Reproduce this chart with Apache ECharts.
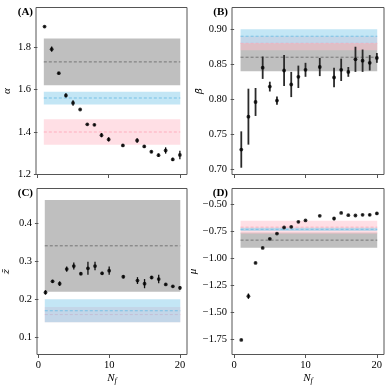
<!DOCTYPE html>
<html>
<head>
<meta charset="utf-8">
<script src="https://cdn.jsdelivr.net/npm/echarts@6/dist/echarts.min.js"></script>
<style>html,body{margin:0;padding:0;background:#fff}#c{width:390px;height:390px}</style>
</head>
<body>
<div id="c"></div>
<script>
// ---- data ----
const nf = [1,2,3,4,5,6,7,8,9,10,12,14,15,16,17,18,19,20];
const alphaVals = [1.896,1.790,1.677,1.572,1.537,1.506,1.436,1.434,1.385,1.365,1.337,1.360,1.332,1.307,1.291,1.313,1.271,1.292];
const alphaErr  = [0.004,0.012,0.006,0.010,0.013,0.004,0.004,0.005,0.010,0.010,0.006,0.011,0.006,0.005,0.008,0.015,0.008,0.020];
const betaVals  = [0.728,0.775,0.796,0.845,0.818,0.798,0.841,0.821,0.832,0.842,0.846,0.831,0.842,0.839,0.857,0.855,0.852,0.859];
const betaErr   = [0.026,0.040,0.020,0.016,0.007,0.006,0.022,0.018,0.016,0.010,0.013,0.014,0.016,0.007,0.018,0.016,0.011,0.007];
const zVals     = [0.218,0.247,0.241,0.279,0.287,0.267,0.281,0.287,0.268,0.275,0.259,0.249,0.241,0.257,0.253,0.239,0.234,0.230];
const zErr      = [0.006,0.004,0.006,0.007,0.009,0.004,0.017,0.011,0.004,0.011,0.004,0.009,0.012,0.004,0.011,0.003,0.003,0.005];
const muVals    = [-1.754,-1.349,-1.041,-0.902,-0.818,-0.769,-0.713,-0.707,-0.661,-0.648,-0.605,-0.630,-0.578,-0.599,-0.602,-0.596,-0.596,-0.583];
const muErr     = [0.006,0.025,0.006,0.006,0.006,0.006,0.006,0.006,0.006,0.006,0.006,0.015,0.006,0.006,0.006,0.006,0.010,0.012];

// reference bands: [gray, pink, blue] centre and half-width
const alphaBandC = [1.73, 1.40, 1.56];  const alphaBandH = [0.11, 0.06, 0.03];
const betaBandC  = [0.86, 0.88, 0.89];  const betaBandH  = [0.02, 0.01, 0.01];
const zBandC     = [0.34, 0.16, 0.17];  const zBandH     = [0.12, 0.02, 0.03];
const muBandC    = [-0.83, -0.71, -0.73]; const muBandH  = [0.07, 0.06, 0.015];
const bandX = [0.9, 20.05];

const xTicks = [0, 10, 20];
const alphaTicks = [1.2, 1.4, 1.6, 1.8];
const betaTicks = [0.70, 0.75, 0.80, 0.85, 0.90];
const zTicks = [0.1, 0.2, 0.3, 0.4];
const muTicks = [-1.75, -1.50, -1.25, -1.00, -0.75, -0.50];

// ---- styles ----
const FONT = '"Liberation Serif", "DejaVu Serif", serif';
const MARKFONT = '"DejaVu Serif", serif';
const bandFill = ['rgba(128,128,128,0.5)', 'rgba(255,192,203,0.5)', 'rgba(135,206,235,0.5)'];
const bandLine = ['rgba(110,110,110,0.9)', 'rgba(255,170,185,0.9)', 'rgba(110,190,230,0.9)'];
const spine = '#555';

const grids = [
  {left: 36, top: 7.5, width: 151, height: 167},
  {left: 232, top: 7.5, width: 152, height: 167},
  {left: 36, top: 188.5, width: 151, height: 166},
  {left: 232, top: 188.5, width: 152, height: 166}
].map(g => Object.assign({show: true, borderColor: spine, borderWidth: 1, backgroundColor: 'transparent'}, g));

const xRanges = [[-0.2, 21], [-0.3, 21], [-0.2, 21], [-0.3, 21]];
const yRanges = [[1.2, 1.986], [0.6923, 0.9311], [0.0555, 0.490], [-1.889, -0.352]];
const yTickSets = [alphaTicks, betaTicks, zTicks, muTicks];
const yFmt = [v => v.toFixed(1), v => v.toFixed(2), v => v.toFixed(1), v => v.toFixed(2).replace('-', '\u2212')];
const yNames = ['\u03b1', '\u03b2\u0304', 'z\u0304', '\u03bc'];
const yNameFonts = [FONT, MARKFONT, MARKFONT, FONT];
const yNameSizes = [11, 10, 10, 11];
const yGaps = [23, 27, 26, 33];

const xAxes = grids.map((g, i) => ({
  type: 'value', gridIndex: i, min: xRanges[i][0], max: xRanges[i][1],
  splitLine: {show: false},
  axisLine: {show: false},
  axisTick: {show: true, inside: false, length: 3.5, lineStyle: {color: spine}, customValues: xTicks},
  axisLabel: {show: i >= 2, customValues: xTicks, margin: 5, color: '#000', fontFamily: FONT, fontSize: 10.5, formatter: v => String(Math.round(v))},
  name: i >= 2 ? '{n|N}{s|f}' : '', nameLocation: 'middle', nameGap: 17,
  nameTextStyle: {rich: {
    n: {fontFamily: FONT, fontStyle: 'italic', fontSize: 11, color: '#000'},
    s: {fontFamily: FONT, fontStyle: 'italic', fontSize: 8, color: '#000', padding: [5, 0, 0, 0]}
  }}
}));

const yAxes = grids.map((g, i) => ({
  type: 'value', gridIndex: i, min: yRanges[i][0], max: yRanges[i][1],
  splitLine: {show: false},
  axisLine: {show: false},
  axisTick: {show: true, inside: false, length: 3.5, lineStyle: {color: spine}, customValues: yTickSets[i]},
  axisLabel: {customValues: yTickSets[i], margin: 5, color: '#000', fontFamily: FONT, fontSize: 10.5, formatter: yFmt[i]},
  name: yNames[i], nameLocation: 'middle', nameGap: yGaps[i], nameRotate: 90,
  nameTextStyle: {fontFamily: yNameFonts[i], fontStyle: 'italic', fontSize: yNameSizes[i], color: '#000'}
}));

const panels = [
  [alphaVals, alphaErr, alphaBandC, alphaBandH],
  [betaVals, betaErr, betaBandC, betaBandH],
  [zVals, zErr, zBandC, zBandH],
  [muVals, muErr, muBandC, muBandH]
];

const series = [];
panels.forEach(([vals, errs, bc, bh], i) => {
  series.push({
    type: 'custom', xAxisIndex: i, yAxisIndex: i, z: 1, clip: true, silent: true,
    data: bc.map((c, k) => [bandX[0], bandX[1], c, bh[k], k]),
    encode: {x: [0, 1], y: 2},
    renderItem: (params, api) => {
      const x0 = api.value(0), x1 = api.value(1), c = api.value(2), h = api.value(3), k = api.value(4);
      const p0 = api.coord([x0, c + h]);
      const p1 = api.coord([x1, c - h]);
      const pc0 = api.coord([x0, c]);
      const pc1 = api.coord([x1, c]);
      return {type: 'group', children: [
        {type: 'rect', shape: {x: p0[0], y: p0[1], width: p1[0] - p0[0], height: p1[1] - p0[1]}, style: {fill: bandFill[k]}},
        {type: 'line', shape: {x1: pc0[0], y1: pc0[1], x2: pc1[0], y2: pc1[1]}, style: {stroke: bandLine[k], lineWidth: 1, lineDash: [3, 2]}}
      ]};
    }
  });
  series.push({
    type: 'custom', xAxisIndex: i, yAxisIndex: i, z: 2, silent: true,
    data: nf.map((x, k) => [x, vals[k], errs[k]]),
    encode: {x: 0, y: 1},
    renderItem: (params, api) => {
      const x = api.value(0), y = api.value(1), e = api.value(2);
      const a = api.coord([x, y - e]);
      const b = api.coord([x, y + e]);
      return {type: 'line', shape: {x1: a[0], y1: a[1], x2: b[0], y2: b[1]}, style: {stroke: i === 1 ? '#2a2a2a' : '#111', lineWidth: i === 1 ? 1.8 : 1.3}};
    }
  });
  series.push({
    type: 'scatter', xAxisIndex: i, yAxisIndex: i, z: 3, silent: true,
    symbolSize: 3.8, itemStyle: {color: '#000'},
    data: nf.map((x, k) => [x, vals[k]])
  });
});

const labelStyle = {fontFamily: FONT, fontWeight: 'bold', fontSize: 11, fill: '#000', textAlign: 'right', textVerticalAlign: 'middle'};
const graphic = [
  {type: 'text', x: 33, y: 12.5, style: Object.assign({text: '(A)'}, labelStyle)},
  {type: 'text', x: 228, y: 12.5, style: Object.assign({text: '(B)'}, labelStyle)},
  {type: 'text', x: 33, y: 193, style: Object.assign({text: '(C)'}, labelStyle)},
  {type: 'text', x: 228, y: 193, style: Object.assign({text: '(D)'}, labelStyle)}
];

const chart = echarts.init(document.getElementById('c'), null, {renderer: 'canvas'});
chart.setOption({
  animation: false,
  backgroundColor: '#fff',
  grid: grids,
  xAxis: xAxes,
  yAxis: yAxes,
  series: series,
  graphic: graphic
});
</script>
</body>
</html>
